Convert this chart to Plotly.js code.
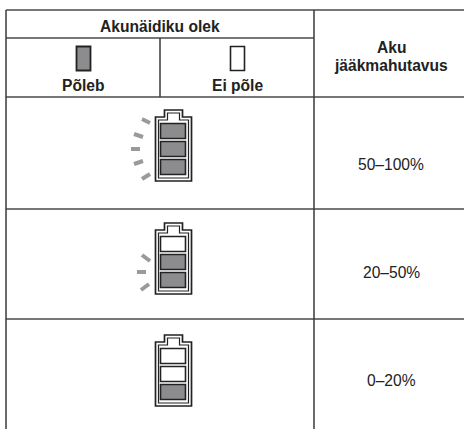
<!DOCTYPE html>
<html><head><meta charset="utf-8">
<script src="https://cdn.plot.ly/plotly-3.0.1.min.js"></script>
<style>html,body{margin:0;padding:0;background:#fff}#c{width:464px;height:429px}</style>
</head><body><div id="c"></div>
<script>
// table structure (diagram units = picture units)
const gridH = [[6,464,10],[6,314,38],[6,464,97],[6,464,209],[6,464,319]];
const gridV = [[6,10,429],[160,38,97],[314,10,429]];
const headers = [["Akunäidiku olek",160,26],["Põleb",83,85],["Ei põle",237,85],["Aku",391,47],["jääkmahutavus",391,65]];
const capacities = ["50–100%","20–50%","0–20%"];
const capacityY = [164,272,380];
const batteryTop = [110,223,335];
// cells lit, top to bottom: 1 = põleb, 0 = ei põle
const cellsLit = [[1,1,1],[0,1,1],[0,0,1]];
const ticks = [
  [[142,119,150,123],[134,134,143,137],[131,149,140,149],[134,164,143,161],[142,179,150,174]],
  [[142,255,150,261],[137,272,146,272],[141,290,149,284]],
  []
];
const GREY="#8c8c8e", INK="#222222", TICK="#9a9a9c";

const shapes=[];
const line=(x0,y0,x1,y1,color,width)=>shapes.push({type:'line',xref:'x',yref:'y',x0,y0,x1,y1,line:{color,width}});
const rect=(x0,y0,x1,y1,fill,color,width)=>shapes.push({type:'rect',xref:'x',yref:'y',x0,y0,x1,y1,fillcolor:fill,line:{color,width}});
const path=(pts,color,width)=>shapes.push({type:'path',xref:'x',yref:'y',path:'M'+pts.map(p=>p.join(',')).join('L')+'Z',line:{color,width},fillcolor:'rgba(0,0,0,0)'});

gridH.forEach(g=>line(g[0],g[2],g[1],g[2],"#4a4a4a",1.5));
gridV.forEach(g=>line(g[0],g[1],g[0],g[2],"#3a3a3a",1.5));

function outline(x0,x1,nx0,nx1,top,body,bot){
  return [[x0,body],[nx0,body],[nx0,top],[nx1,top],[nx1,body],[x1,body],[x1,bot],[x0,bot]];
}
batteryTop.forEach((t,i)=>{
  path(outline(155.5,191.5,164.5,182.5,t,t+7,t+71),INK,1.7);
  path(outline(158.5,188.5,167.5,179.5,t+3,t+10,t+68),INK,1.2);
  cellsLit[i].forEach((on,k)=>{
    const y=t+13.5+k*18;
    rect(160.5,y,185.5,y+15,on?GREY:"#fff",INK,1.6);
  });
  ticks[i].forEach(d=>line(d[0],d[1],d[2],d[3],TICK,4));
});
// legend swatches
rect(76.5,46.5,90.5,70.5,GREY,INK,1.8);
rect(230.5,46.5,244.5,70.5,"#fff",INK,1.6);

const F={family:"Liberation Sans, Arial, sans-serif",color:"#222"};
const annotations=[];
const txt=(text,x,y,size,bold)=>annotations.push({text:bold?'<b>'+text+'</b>':text,x,y,xref:'x',yref:'y',showarrow:false,xanchor:'center',yanchor:'middle',font:{...F,size}});
headers.forEach(h=>txt(h[0],h[1],h[2],15.6,true));
capacities.forEach((c,i)=>txt(c,391,capacityY[i],15.6,false));

Plotly.newPlot('c',[{x:[],y:[],type:'scatter'}],{
  width:464,height:429,margin:{l:0,r:0,t:0,b:0},
  paper_bgcolor:'#fff',plot_bgcolor:'#fff',showlegend:false,
  xaxis:{range:[0,464],visible:false,fixedrange:true},
  yaxis:{range:[429,0],visible:false,fixedrange:true},
  shapes,annotations
},{displayModeBar:false,staticPlot:true});
</script></body></html>
